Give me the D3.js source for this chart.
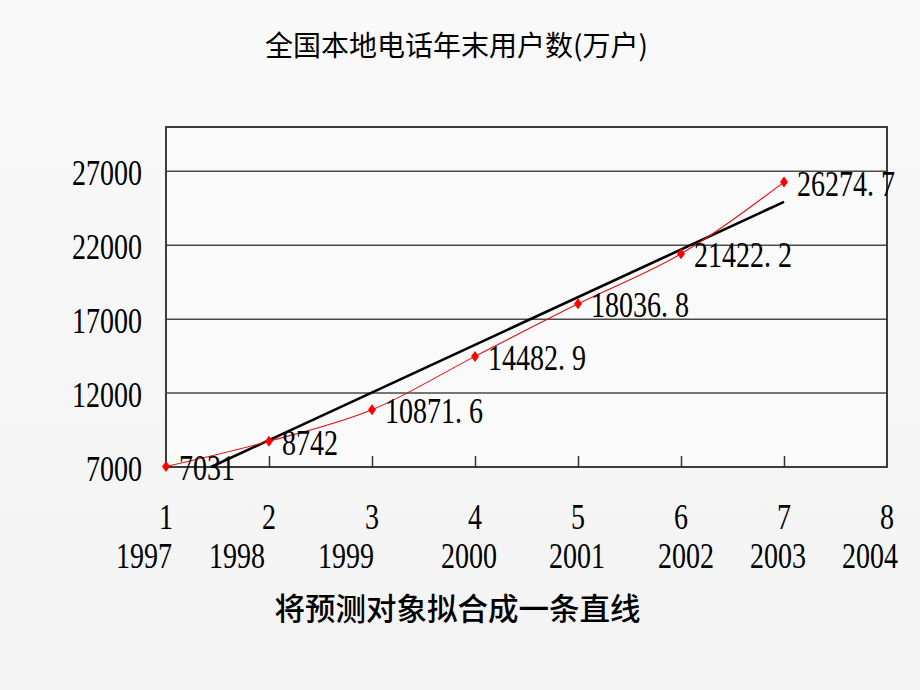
<!DOCTYPE html>
<html>
<head>
<meta charset="utf-8">
<script src="https://cdn.jsdelivr.net/npm/d3@7"></script>
<style>
  html, body { margin: 0; padding: 0; background: #f6f6f6; }
  svg { display: block; }
</style>
</head>
<body>
<script>
// ---- data ----
const xIndex = [1, 2, 3, 4, 5, 6, 7];
const users = [7031, 8742, 10871.6, 14482.9, 18036.8, 21422.2, 26274.7];
const userLabels = ["7031", "8742", "10871.6", "14482.9", "18036.8", "21422.2", "26274.7"];
const xTicks = [1, 2, 3, 4, 5, 6, 7, 8];
const yearLabels = ["1997", "1998", "1999", "2000", "2001", "2002", "2003", "2004"];
const yTicks = [7000, 12000, 17000, 22000, 27000];
// trend line (linear fit) endpoints: [x, value]
const trendX = [1.436, 7];
const trendY = [7000, 24936];
const titleText = "全国本地电话年末用户数(万户)";
const captionText = "将预测对象拟合成一条直线";

// ---- layout ----
const W = 920, H = 690;
const L = 166, R = 887, T = 127, B = 467;
const yearOffsets = [-22, -32, -26, -6, -1, 5, -6, -17];
const numFont = "'Liberation Serif', 'DejaVu Serif', serif";
const numSize = 35, numScaleX = 0.8;

const svg = d3.select("body").append("svg").attr("width", W).attr("height", H);

// background
const defs = svg.append("defs");
const grad = defs.append("linearGradient").attr("id", "bg").attr("x1", 0).attr("y1", 0).attr("x2", 0).attr("y2", 1);
grad.append("stop").attr("offset", "0%").attr("stop-color", "#f9f9f9");
grad.append("stop").attr("offset", "100%").attr("stop-color", "#f3f3f3");
svg.append("rect").attr("width", W).attr("height", H).attr("fill", "url(#bg)");

const x = d3.scaleLinear().domain([1, 8]).range([L, R]);
const y = d3.scaleLinear().domain([7000, 30000]).range([B, T]);

// plot area
svg.append("rect").attr("x", L).attr("y", T).attr("width", R - L).attr("height", B - T)
  .attr("fill", "#fafafa");

// gridlines
svg.append("g").selectAll("line").data(yTicks.slice(1)).join("line")
  .attr("x1", L).attr("x2", R)
  .attr("y1", d => y(d)).attr("y2", d => y(d))
  .attr("stroke", "#4a4a4a").attr("stroke-width", 1.5);

// frame
svg.append("rect").attr("x", L).attr("y", T).attr("width", R - L).attr("height", B - T)
  .attr("fill", "none").attr("stroke", "#3c3c3c").attr("stroke-width", 2);

// bottom axis inward ticks
const xAxis = d3.axisBottom(x).tickValues(xTicks.slice(1, -1)).tickSizeInner(-11).tickSizeOuter(0).tickFormat("");
const gx = svg.append("g").attr("transform", `translate(0,${B})`).call(xAxis);
gx.select(".domain").remove();
gx.selectAll(".tick line").attr("stroke", "#333").attr("stroke-width", 1.5);

// helper for condensed numeric text (decimal point occupies a full digit cell)
function numText(g, tx, ty, str, anchor) {
  const t = g.append("g").attr("transform", `translate(${tx},${ty}) scale(${numScaleX},1)`)
    .append("text")
    .attr("font-family", numFont).attr("font-size", numSize)
    .attr("fill", "#000").attr("text-anchor", anchor);
  const parts = str.split(".");
  if (parts.length === 1) {
    t.text(str);
  } else {
    t.append("tspan").text(parts[0] + ".");
    t.append("tspan").attr("dx", "0.25em").text(parts[1]);
  }
}

// y tick labels
const gyl = svg.append("g");
yTicks.forEach(v => numText(gyl, 142, y(v) + 13.5, String(v), "end"));

// x tick labels (index and years)
const gxl = svg.append("g");
xTicks.forEach((v, i) => {
  numText(gxl, x(v), 529, String(v), "middle");
  numText(gxl, x(v) + yearOffsets[i], 568, yearLabels[i], "middle");
});

// trend line
svg.append("line")
  .attr("x1", x(trendX[0])).attr("y1", y(trendY[0]))
  .attr("x2", x(trendX[1])).attr("y2", y(trendY[1]))
  .attr("stroke", "#000").attr("stroke-width", 2.6).attr("stroke-linecap", "butt");

// red series
const line = d3.line().x((d, i) => x(xIndex[i])).y(d => y(d)).curve(d3.curveMonotoneX);
svg.append("path").datum(users).attr("d", line)
  .attr("fill", "none").attr("stroke", "#e01010").attr("stroke-width", 1.1);

svg.append("g").selectAll("path").data(users).join("path")
  .attr("transform", (d, i) => `translate(${x(xIndex[i])},${y(d)})`)
  .attr("d", "M0,-5.5L4,0L0,5.5L-4,0Z")
  .attr("fill", "#ff0000");

// data labels
const gdl = svg.append("g");
users.forEach((v, i) => numText(gdl, x(xIndex[i]) + 13, y(v) + 13.5, userLabels[i], "start"));

// title & caption
svg.append("text").attr("x", 456.5).attr("y", 55.5)
  .attr("text-anchor", "middle")
  .attr("font-family", "'Noto Sans CJK SC', sans-serif").attr("font-size", 28)
  .attr("fill", "#000").text(titleText);

svg.append("text").attr("x", 457.5).attr("y", 620)
  .attr("text-anchor", "middle")
  .attr("font-family", "'Noto Sans CJK SC', sans-serif").attr("font-size", 30.5).attr("font-weight", 500)
  .attr("fill", "#000").text(captionText);
</script>
</body>
</html>
